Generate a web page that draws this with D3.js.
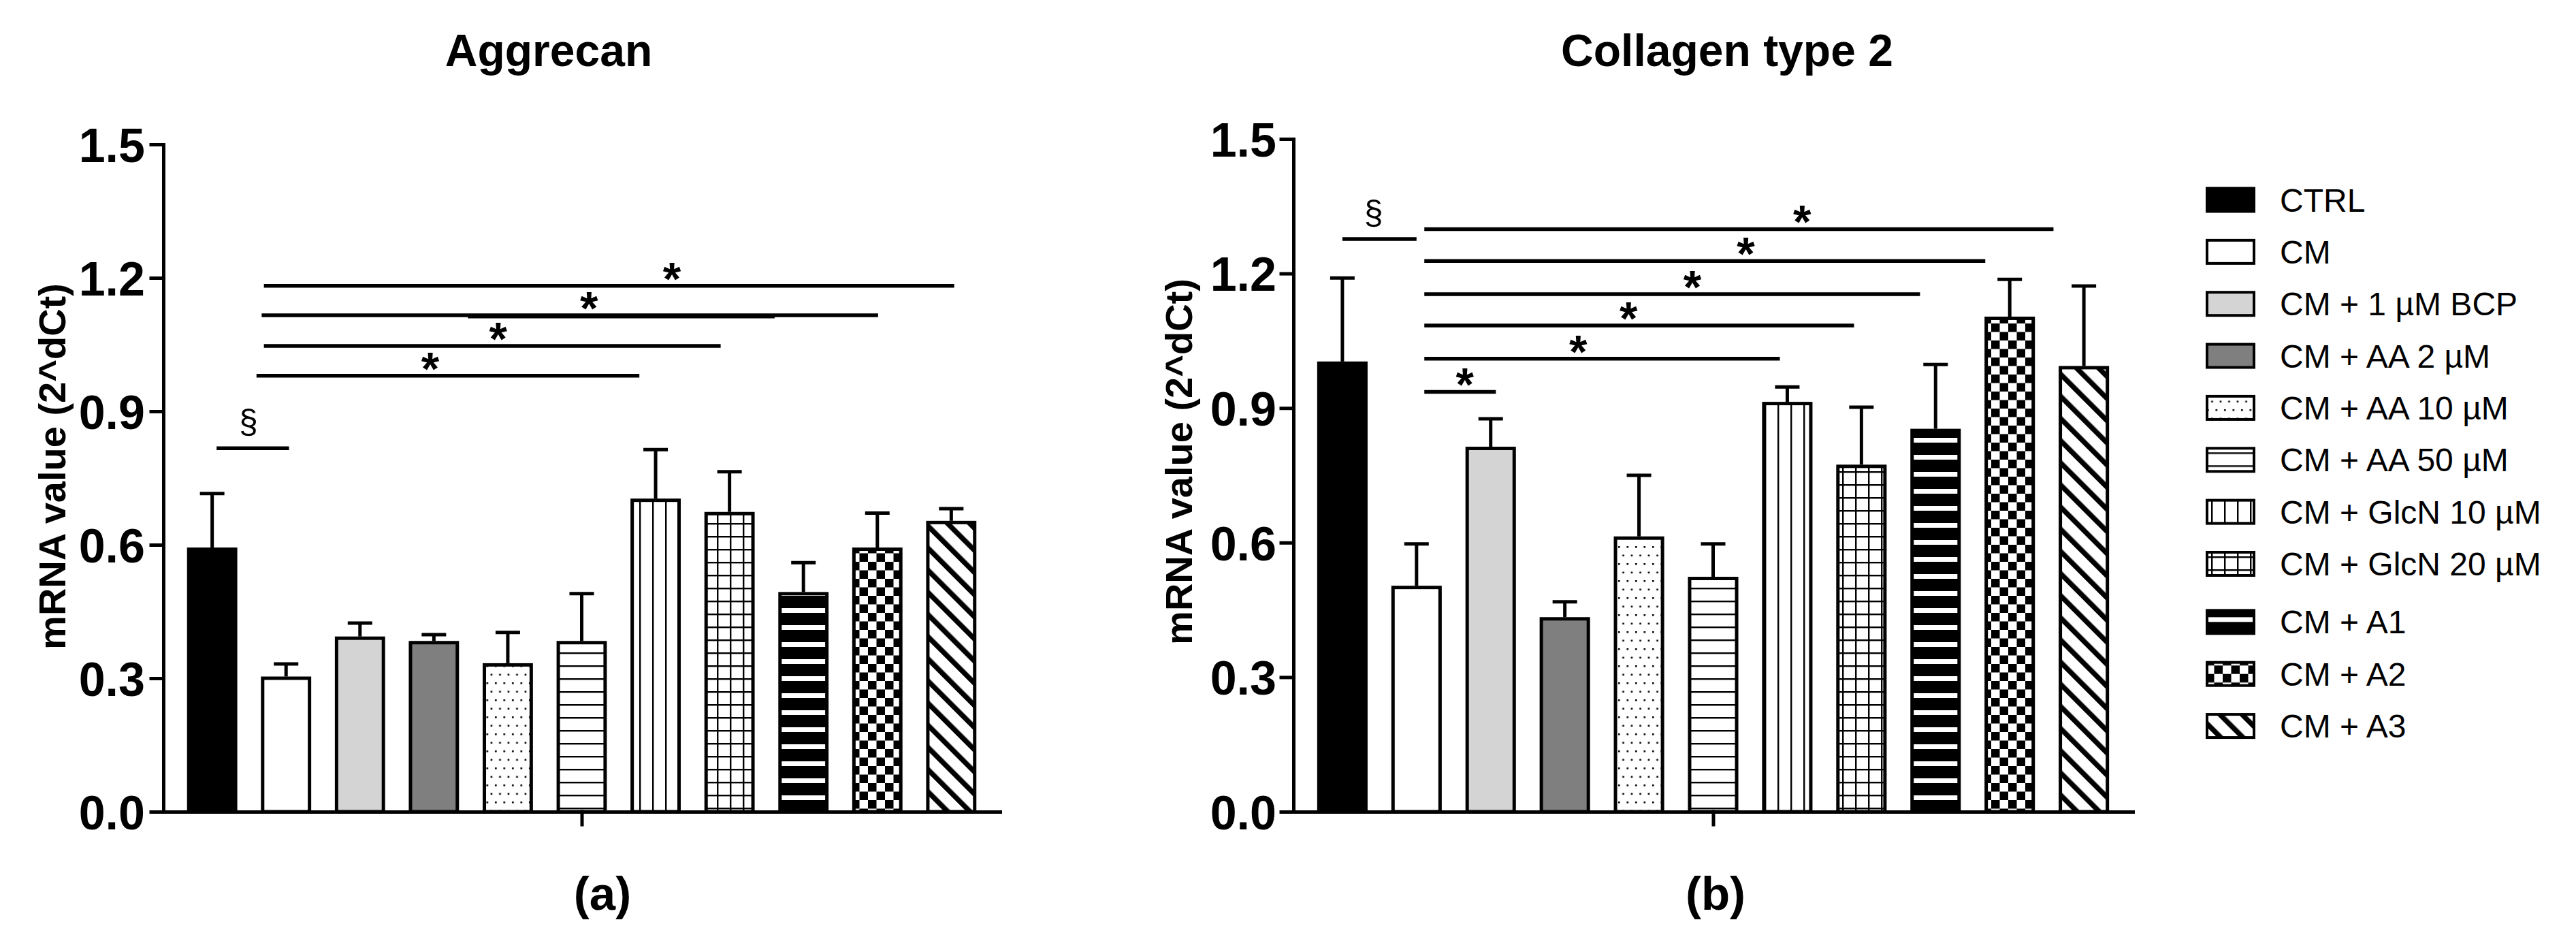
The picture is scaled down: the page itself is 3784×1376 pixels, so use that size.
<!DOCTYPE html>
<html>
<head>
<meta charset="utf-8">
<script src="https://cdn.jsdelivr.net/npm/d3@7"></script>
<style>
  body { margin: 0; background: #fff; }
  svg { display: block; font-family: "Liberation Sans", Arial, sans-serif; }
</style>
</head>
<body>
<svg id="chart" width="3784" height="1376"></svg>
<script>
// groups, same order in both panels and in the legend
const categories = ["CTRL", "CM", "CM + 1 µM BCP", "CM + AA 2 µM", "CM + AA 10 µM",
  "CM + AA 50 µM", "CM + GlcN 10 µM", "CM + GlcN 20 µM", "CM + A1", "CM + A2", "CM + A3"];

// Aggrecan (a)
const aggrecanMean = [0.59, 0.30, 0.39, 0.38, 0.33, 0.38, 0.70, 0.67, 0.49, 0.59, 0.65];
const aggrecanErr  = [0.125, 0.032, 0.034, 0.018, 0.073, 0.110, 0.114, 0.094, 0.070, 0.081, 0.031];

// Collagen type 2 (b)
const collagenMean = [1.00, 0.50, 0.81, 0.43, 0.61, 0.52, 0.91, 0.77, 0.85, 1.10, 0.99];
const collagenErr  = [0.19, 0.097, 0.066, 0.038, 0.14, 0.077, 0.037, 0.132, 0.147, 0.087, 0.182];

// significance bars: [from bar, to bar, height, label position, label]
const aggrecanSig = [
  [0.06, 1.04, 0.817, 0.49, "§"],
  [0.60, 5.78, 0.980, 2.95, "*"],
  [0.70, 6.88, 1.047, 3.87, "*"],
  [0.67, 9.01, 1.116, 5.10, "*"],
  [3.46, 7.61, 1.113, null, ""],
  [0.70, 10.04, 1.182, 6.22, "*"]
];
const collagenSig = [
  [0.00, 1.00, 1.277, 0.42, "§"],
  [1.105, 2.07, 0.936, 1.65, "*"],
  [1.105, 5.90, 1.010, 3.18, "*"],
  [1.105, 6.90, 1.084, 3.86, "*"],
  [1.105, 7.79, 1.154, 4.72, "*"],
  [1.105, 8.67, 1.228, 5.44, "*"],
  [1.105, 9.59, 1.299, 6.20, "*"]
];

const yTicks = [0, 0.3, 0.6, 0.9, 1.2, 1.5];

const svg = d3.select("#chart");
const defs = svg.append("defs");

// --- fill patterns (GraphPad style)
function pattern(id, w, h, rot) {
  let p = defs.append("pattern")
    .attr("id", id)
    .attr("patternUnits", "userSpaceOnUse")
    .attr("width", w)
    .attr("height", h);
  if (rot) p.attr("patternTransform", `rotate(${rot})`);
  p.append("rect").attr("width", w).attr("height", h).attr("fill", "white");
  return p;
}

let pDots = pattern("dots", 12.5, 25);
pDots.append("rect").attr("x", 2).attr("y", 2).attr("width", 2.6).attr("height", 2.6).attr("fill", "black");
pDots.append("rect").attr("x", 8.2).attr("y", 14.5).attr("width", 2.6).attr("height", 2.6).attr("fill", "black");

let pH = pattern("hlines", 19, 19);
pH.append("rect").attr("y", 8).attr("width", 19).attr("height", 2.4).attr("fill", "black");

let pV = pattern("vlines", 19, 19);
pV.append("rect").attr("x", 8).attr("width", 2.4).attr("height", 19).attr("fill", "black");

let pG = pattern("grid", 19, 19);
pG.append("rect").attr("y", 8).attr("width", 19).attr("height", 2.4).attr("fill", "black");
pG.append("rect").attr("x", 8).attr("width", 2.4).attr("height", 19).attr("fill", "black");

let pB = pattern("bands", 25, 25);
pB.append("rect").attr("width", 25).attr("height", 18).attr("fill", "black");

let pC = pattern("checker", 25, 25);
pC.append("rect").attr("width", 12.5).attr("height", 12.5).attr("fill", "black");
pC.append("rect").attr("x", 12.5).attr("y", 12.5).attr("width", 12.5).attr("height", 12.5).attr("fill", "black");

// "\" stripes
let pD = pattern("diag", 23, 23, -45);
pD.append("rect").attr("x", 0).attr("width", 7.5).attr("height", 23).attr("fill", "black");

const barFills = ["black", "white", "#d4d4d4", "#7f7f7f", "url(#dots)", "url(#hlines)",
  "url(#vlines)", "url(#grid)", "url(#bands)", "url(#checker)", "url(#diag)"];

// --- one panel
function drawPanel(opt) {
  let g = svg.append("g").attr("class", "panel");

  let xScale = d3.scaleBand().domain(categories)
    .range([opt.x0, opt.x1]).paddingInner(0.32).paddingOuter(0.32);
  let yScale = d3.scaleLinear().domain([0, 1.5]).range([1192, opt.yTop]);
  // continuous bar-index scale for the comparison lines
  let iScale = d3.scaleLinear().domain([0, 1])
    .range([xScale(categories[0]) + xScale.bandwidth() / 2,
            xScale(categories[1]) + xScale.bandwidth() / 2]);

  const bw = xScale.bandwidth();
  const sw = 5;

  // bars
  g.selectAll("rect.bar")
    .data(opt.mean)
    .join("rect")
    .attr("class", "bar")
    .attr("x", (d, i) => xScale(categories[i]) + sw / 2)
    .attr("y", d => yScale(d))
    .attr("width", bw - sw)
    .attr("height", d => yScale(0) - yScale(d))
    .attr("fill", (d, i) => barFills[i])
    .style("stroke", "black")
    .style("stroke-width", sw);

  // error bars (upper only)
  g.selectAll("g.err")
    .data(opt.mean)
    .join("g")
    .attr("class", "err")
    .each(function (d, i) {
      let cx = xScale(categories[i]) + bw / 2;
      let top = yScale(d + opt.err[i]);
      d3.select(this).append("line")
        .attr("x1", cx).attr("x2", cx)
        .attr("y1", yScale(d) - sw / 2).attr("y2", top)
        .style("stroke", "black").style("stroke-width", 5);
      d3.select(this).append("line")
        .attr("x1", cx - 18).attr("x2", cx + 18)
        .attr("y1", top).attr("y2", top)
        .style("stroke", "black").style("stroke-width", 5);
    });

  // axes
  let yAxis = d3.axisLeft(yScale).tickValues(yTicks)
    .tickFormat(d3.format(".1f")).tickSize(18).tickSizeOuter(0).tickPadding(opt.pad);
  let yG = g.append("g").attr("transform", `translate(${opt.x0},0)`).call(yAxis);

  let xAxis = d3.axisBottom(d3.scaleLinear().domain([0, 1]).range([opt.x0, opt.x1]))
    .tickValues([0.5]).tickFormat("").tickSize(19).tickSizeOuter(0);
  let xG = g.append("g").attr("transform", "translate(0,1192)").call(xAxis);

  g.selectAll(".domain, .tick line")
    .style("stroke", "black").style("stroke-width", 5).style("stroke-linecap", "square");
  yG.selectAll("text")
    .style("font-size", "70px").style("font-weight", "bold").style("fill", "black")
    .attr("dy", "0.36em");

  // comparison lines
  g.selectAll("line.sig")
    .data(opt.sig)
    .join("line")
    .attr("class", "sig")
    .attr("x1", d => iScale(d[0])).attr("x2", d => iScale(d[1]))
    .attr("y1", d => yScale(d[2])).attr("y2", d => yScale(d[2]))
    .style("stroke", "black").style("stroke-width", 5.5);

  g.selectAll("text.sig")
    .data(opt.sig.filter(d => d[4] !== ""))
    .join("text")
    .attr("class", "sig")
    .attr("x", d => iScale(d[3]))
    .attr("y", d => d[4] === "*" ? yScale(d[2]) + 13 : yScale(d[2]) - 22)
    .attr("text-anchor", "middle")
    .style("font-size", d => d[4] === "*" ? "68px" : "50px")
    .style("font-weight", d => d[4] === "*" ? "bold" : "normal")
    .text(d => d[4]);

  // titles
  g.append("text")
    .attr("x", opt.titleX).attr("y", 97)
    .attr("text-anchor", "middle")
    .style("font-size", "66px").style("font-weight", "bold")
    .text(opt.title);

  g.append("text")
    .attr("transform", `translate(${opt.labelX},${opt.labelY}) rotate(-90)`)
    .attr("text-anchor", "middle")
    .style("font-size", "56px").style("font-weight", "bold")
    .text("mRNA value (2^dCt)");

  g.append("text")
    .attr("x", opt.tagX).attr("y", 1336)
    .attr("text-anchor", "middle")
    .style("font-size", "69px").style("font-weight", "bold")
    .text(opt.tag);
}

drawPanel({
  mean: aggrecanMean, err: aggrecanErr, sig: aggrecanSig,
  x0: 240, x1: 1469, yTop: 212, pad: 9,
  title: "Aggrecan", titleX: 806, tag: "(a)", tagX: 885,
  labelX: 96, labelY: 685
});

drawPanel({
  mean: collagenMean, err: collagenErr, sig: collagenSig,
  x0: 1900, x1: 3133, yTop: 204, pad: 7,
  title: "Collagen type 2", titleX: 2537, tag: "(b)", tagX: 2520,
  labelX: 1751, labelY: 678
});

// legend
const legendY = d3.scaleLinear().domain([0, 7]).range([293.5, 828]);
let legend = svg.append("g").attr("class", "legend");
legend.selectAll("g.item")
  .data(categories)
  .join("g")
  .attr("class", "item")
  .attr("transform", (d, i) => `translate(3240,${legendY(i) + (i > 7 ? 9 : 0)})`)
  .each(function (d, i) {
    d3.select(this).append("rect")
      .attr("x", 2).attr("y", -17)
      .attr("width", 69).attr("height", 34)
      .attr("fill", barFills[i])
      .style("stroke", "black").style("stroke-width", 4);
    d3.select(this).append("text")
      .attr("x", 109).attr("y", 17)
      .style("font-size", "48px")
      .text(d);
  });
</script>
</body>
</html>
